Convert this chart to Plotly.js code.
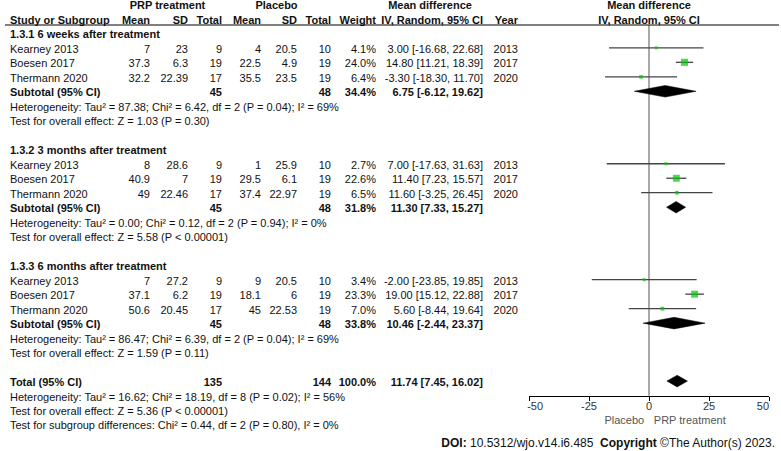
<!DOCTYPE html>
<html>
<head>
<meta charset="utf-8">
<script src="https://cdn.plot.ly/plotly-3.0.1.min.js"></script>
<style>html,body{margin:0;padding:0;background:#fff;}#chart{width:781px;height:451px;}</style>
</head>
<body>
<div id="chart"></div>
<script>
// ---------- DATA ----------
const groupTitles = ["1.3.1 6 weeks after treatment", "1.3.2 3 months after treatment", "1.3.3 6 months after treatment"];
const studyNames = ["Kearney 2013", "Boesen 2017", "Thermann 2020", "Kearney 2013", "Boesen 2017", "Thermann 2020", "Kearney 2013", "Boesen 2017", "Thermann 2020"];
const studyGroup = [0, 0, 0, 1, 1, 1, 2, 2, 2];
const studyYear = [2013, 2017, 2020, 2013, 2017, 2020, 2013, 2017, 2020];
const prpMean = [7, 37.3, 32.2, 8, 40.9, 49, 7, 37.1, 50.6];
const prpSD = [23, 6.3, 22.39, 28.6, 7, 22.46, 27.2, 6.2, 20.45];
const prpN = [9, 19, 17, 9, 19, 17, 9, 19, 17];
const plaMean = [4, 22.5, 35.5, 1, 29.5, 37.4, 9, 18.1, 45];
const plaSD = [20.5, 4.9, 23.5, 25.9, 6.1, 22.97, 20.5, 6, 22.53];
const plaN = [10, 19, 19, 10, 19, 19, 10, 19, 19];
const weight = [4.1, 24.0, 6.4, 2.7, 22.6, 6.5, 3.4, 23.3, 7.0];
const md = [3.00, 14.80, -3.30, 7.00, 11.40, 11.60, -2.00, 19.00, 5.60];
const ciLo = [-16.68, 11.21, -18.30, -17.63, 7.23, -3.25, -23.85, 15.12, -8.44];
const ciHi = [22.68, 18.39, 11.70, 31.63, 15.57, 26.45, 19.85, 22.88, 19.64];

const subPrpN = [45, 45, 45];
const subPlaN = [48, 48, 48];
const subWeight = [34.4, 31.8, 33.8];
const subMd = [6.75, 11.30, 10.46];
const subLo = [-6.12, 7.33, -2.44];
const subHi = [19.62, 15.27, 23.37];
const subHet = [
  "Heterogeneity: Tau² = 87.38; Chi² = 6.42, df = 2 (P = 0.04); I² = 69%",
  "Heterogeneity: Tau² = 0.00; Chi² = 0.12, df = 2 (P = 0.94); I² = 0%",
  "Heterogeneity: Tau² = 86.47; Chi² = 6.39, df = 2 (P = 0.04); I² = 69%"
];
const subTest = [
  "Test for overall effect: Z = 1.03 (P = 0.30)",
  "Test for overall effect: Z = 5.58 (P < 0.00001)",
  "Test for overall effect: Z = 1.59 (P = 0.11)"
];

const totalPrpN = 135;
const totalPlaN = 144;
const totalWeight = 100.0;
const totalMd = 11.74;
const totalLo = 7.45;
const totalHi = 16.02;
const totalHet = "Heterogeneity: Tau² = 16.62; Chi² = 18.19, df = 8 (P = 0.02); I² = 56%";
const totalTest = "Test for overall effect: Z = 5.36 (P < 0.00001)";
const subgroupDiff = "Test for subgroup differences: Chi² = 0.44, df = 2 (P = 0.80), I² = 0%";

const axisTicks = [-50, -25, 0, 25, 50];
const axisTickLabels = ["-50", "-25", "0", "25", "50"];
const favoursLeft = "Placebo";
const favoursRight = "PRP treatment";
const credit = "<b>DOI:</b> 10.5312/wjo.v14.i6.485  <b>Copyright</b> ©The Author(s) 2023.";

// ---------- LAYOUT CONFIG ----------
const W = 781, H = 451;
const ROW0 = 35.5, ROWH = 14.49;           // pixel of row 0, row height
const yTop = (0 - ROW0) / ROWH, yBot = (H - ROW0) / ROWH;
const rowOf = p => (p - ROW0) / ROWH;
const col = {name: 10, prpMean: 150, prpSD: 188, prpN: 222, plaMean: 261, plaSD: 297, plaN: 331, weight: 376, ci: 483, year: 518};
const FONT = "Liberation Sans, Arial, sans-serif";
const FS = 11;
const TXT = "#111";
const markOffset = -0.15;
const plotLeft = 529, plotRight = 769, axisPix = 395.7;
const PAD = "\u2007\u2007";

const fmt2 = v => v.toFixed(2);
const ciText = (m, l, h) => fmt2(m) + " [" + fmt2(l) + ", " + fmt2(h) + "]";

// rows
const studyRow = studyNames.map((_, i) => studyGroup[i] * 8 + 1 + (i % 3));
const titleRow = groupTitles.map((_, g) => g * 8);
const subRow = groupTitles.map((_, g) => g * 8 + 4);
const hetRow = groupTitles.map((_, g) => g * 8 + 5);
const testRow = groupTitles.map((_, g) => g * 8 + 6);
const totalRow = 24;

const traces = [];
function txt(xs, ys, texts, pos, opts) {
  opts = opts || {};
  traces.push({
    type: "scatter", mode: "text", xaxis: "x2", yaxis: "y",
    x: xs, y: ys, text: texts, textposition: pos,
    textfont: {family: FONT, size: opts.size || FS, color: opts.color || TXT},
    hoverinfo: "skip", showlegend: false, cliponaxis: false
  });
}
const bold = arr => arr.map(s => "<b>" + s + "</b>");
const rep = (v, n) => Array(n).fill(v);

// headers
txt([167.5, 276.5, 430], [-2, -2, -2], bold(["PRP treatment", "Placebo", "Mean difference"]), "middle center");
txt([col.name], [-1], bold(["Study or Subgroup"]), "middle right");
txt([col.prpMean, col.prpSD, col.prpN, col.plaMean, col.plaSD, col.plaN, col.weight, col.ci, col.year], rep(-1, 9),
    bold(["Mean", "SD", "Total", "Mean", "SD", "Total", "Weight", "IV, Random, 95% CI", "Year"]), "middle left");
const fx = v => plotLeft + (v + 50) / 100 * (plotRight - plotLeft);
txt([fx(0), fx(0)], [-2, -1], bold(["Mean difference", "IV, Random, 95% CI"]), "middle center");

// group titles
txt(rep(col.name, 3), titleRow, bold(groupTitles), "middle right");
// studies
txt(rep(col.name, 9), studyRow, studyNames, "middle right");
txt(rep(col.prpMean, 9), studyRow, prpMean.map(String), "middle left");
txt(rep(col.prpSD, 9), studyRow, prpSD.map(String), "middle left");
txt(rep(col.prpN, 9), studyRow, prpN.map(String), "middle left");
txt(rep(col.plaMean, 9), studyRow, plaMean.map(String), "middle left");
txt(rep(col.plaSD, 9), studyRow, plaSD.map(String), "middle left");
txt(rep(col.plaN, 9), studyRow, plaN.map(String), "middle left");
txt(rep(col.weight, 9), studyRow, weight.map(w => w.toFixed(1) + "%"), "middle left");
txt(rep(col.ci, 9), studyRow, md.map((m, i) => ciText(m, ciLo[i], ciHi[i])), "middle left");
txt(rep(col.year, 9), studyRow, studyYear.map(String), "middle left");
// subtotals
txt(rep(col.name, 3), subRow, bold(rep("Subtotal (95% CI)", 3)), "middle right");
txt(rep(col.prpN, 3), subRow, bold(subPrpN.map(String)), "middle left");
txt(rep(col.plaN, 3), subRow, bold(subPlaN.map(String)), "middle left");
txt(rep(col.weight, 3), subRow, bold(subWeight.map(w => w.toFixed(1) + "%")), "middle left");
txt(rep(col.ci, 3), subRow, bold(subMd.map((m, g) => ciText(m, subLo[g], subHi[g]))), "middle left");
txt(rep(col.name, 3), hetRow, subHet, "middle right");
txt(rep(col.name, 3), testRow, subTest, "middle right");
// total
txt([col.name], [totalRow], bold(["Total (95% CI)"]), "middle right");
txt([col.prpN, col.plaN, col.weight, col.ci], rep(totalRow, 4),
    bold([String(totalPrpN), String(totalPlaN), totalWeight.toFixed(1) + "%", ciText(totalMd, totalLo, totalHi)]), "middle left");
txt(rep(col.name, 3), [totalRow + 1, totalRow + 2, totalRow + 3], [totalHet, totalTest, subgroupDiff], "middle right");
// favours labels
txt([fx(-2), fx(2)], [rowOf(421), rowOf(421)], [favoursLeft, favoursRight], ["middle left", "middle right"], {color: "#555"});
// credit
txt([775], [rowOf(443.5)], [credit], "middle left", {size: 12, color: "#111"});

// study markers with CIs
traces.push({
  type: "scatter", mode: "markers", xaxis: "x", yaxis: "y",
  x: md, y: studyRow.map(r => r + markOffset),
  error_x: {type: "data", symmetric: false,
    array: ciHi.map((h, i) => h - md[i]), arrayminus: ciLo.map((l, i) => md[i] - l),
    color: "#444", thickness: 1.3, width: 0},
  marker: {symbol: "square", color: "#00c400", size: weight.map(w => Math.max(3, Math.sqrt(w) * 1.45)), line: {width: 0}},
  hoverinfo: "skip", showlegend: false, cliponaxis: false
});

// diamonds
const DH = 0.4;
function diamond(m, l, h, r) {
  const yc = r + markOffset;
  traces.push({
    type: "scatter", mode: "lines", xaxis: "x", yaxis: "y",
    x: [l, m, h, m, l], y: [yc, yc - DH, yc, yc + DH, yc],
    fill: "toself", fillcolor: "#000", line: {color: "#000", width: 0.5},
    hoverinfo: "skip", showlegend: false
  });
}
subMd.forEach((m, g) => diamond(m, subLo[g], subHi[g], subRow[g]));
diamond(totalMd, totalLo, totalHi, totalRow);

const tickText = axisTickLabels.map((t, i) => i === 0 ? PAD + t : (i === axisTickLabels.length - 1 ? t + PAD : t));

const layout = {
  width: W, height: H,
  margin: {l: 0, r: 0, t: 0, b: 0},
  paper_bgcolor: "#fff", plot_bgcolor: "rgba(0,0,0,0)",
  showlegend: false,
  xaxis: {
    domain: [plotLeft / W, plotRight / W], range: [-50, 50],
    anchor: "free", position: (H - axisPix) / H,
    showgrid: false, zeroline: false, showline: true, linecolor: "#000", linewidth: 1,
    ticks: "outside", ticklen: 4, tickcolor: "#000", tickwidth: 1, ticklabelstandoff: -4,
    ticklabeloverflow: "allow",
    tickvals: axisTicks, ticktext: tickText,
    tickfont: {family: FONT, size: FS, color: "#333"}, fixedrange: true
  },
  xaxis2: {domain: [0, 1], range: [0, W], visible: false, anchor: "y", fixedrange: true},
  yaxis: {domain: [0, 1], range: [yBot, yTop], visible: false, anchor: "x2", fixedrange: true},
  shapes: [
    {type: "line", xref: "x2", yref: "y", x0: 5, x1: 779, y0: rowOf(25), y1: rowOf(25), line: {color: "#000", width: 1}},
    {type: "line", xref: "x", yref: "y", x0: 0, x1: 0, y0: rowOf(25), y1: rowOf(axisPix), line: {color: "#8c8c8c", width: 1.5}, layer: "below"}
  ]
};

Plotly.newPlot("chart", traces, layout, {staticPlot: true, displayModeBar: false});
</script>
</body>
</html>
